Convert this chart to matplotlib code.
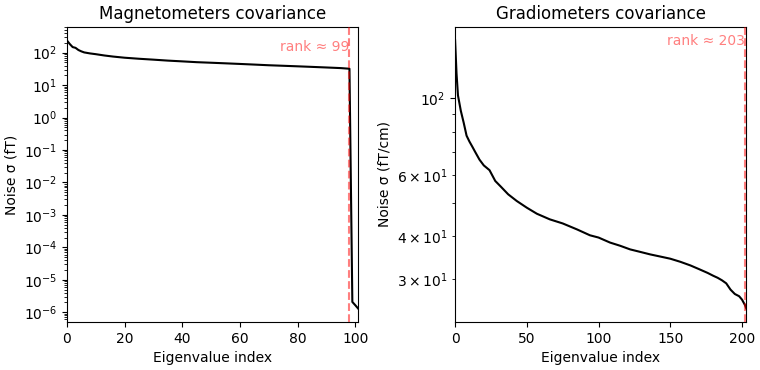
from matplotlib import pyplot as plt

# eigenvalue spectra (sqrt of eigenvalues, scaled)
mag_idx = [0, 1, 2, 3, 4, 5, 6, 8, 10, 13, 16, 20, 25, 30, 35, 40, 45, 50, 55, 60,
           65, 70, 75, 80, 85, 90, 95, 98, 99, 100, 101]
mag_vals = [239, 185, 149, 141, 121, 110, 102, 95, 90, 82, 76, 70, 65, 61, 57, 54, 51, 49, 47, 45,
            43, 41, 39.5, 38, 36.5, 35, 33.5, 32, 2.07e-6, 1.65e-6, 1.3e-6]
mag_count = 102
mag_rank = 99

grad_idx = [0, 1, 2, 4, 6, 8, 10, 12, 14, 17, 20, 24, 28, 32, 37, 43, 50, 57, 66, 75,
            85, 94, 100, 108, 115, 122, 129, 136, 143, 150, 157, 164, 170, 176, 180, 183,
            186, 189, 192, 195, 198, 200, 202, 203]
grad_vals = [147, 118, 102, 92, 85, 78, 75, 72.5, 70, 66.5, 64, 62, 57.7, 55.5, 52.8, 50.5, 48.3, 46.4, 44.7, 43.5,
             41.8, 40.2, 39.6, 38.3, 37.5, 36.6, 36.0, 35.4, 34.9, 34.4, 33.7, 32.9, 32.1, 31.3, 30.7, 30.3,
             29.8, 29.2, 28.0, 27.2, 26.8, 26.2, 25.3, 24.7]
grad_count = 204
grad_rank = 203

panels = [
    (mag_idx, mag_vals, mag_count, mag_rank, 'Magnetometers covariance', 'Noise σ (fT)'),
    (grad_idx, grad_vals, grad_count, grad_rank, 'Gradiometers covariance', 'Noise σ (fT/cm)'),
]

fig, axes = plt.subplots(1, 2, figsize=(7.6, 3.7), dpi=100)
fig.subplots_adjust(left=0.088, right=0.982, bottom=0.130, top=0.927, wspace=0.333)

for ax, (idx, vals, n, rank, title, ylabel) in zip(axes, panels):
    ax.plot(idx, vals, color='k', zorder=3)
    ax.axvline(rank - 1, ls='--', color='r', alpha=0.5, zorder=4, clip_on=False)
    ax.text(rank - 1, ax.get_ylim()[1], 'rank ≈ %d' % rank,
            ha='right', va='top', color='r', alpha=0.5, zorder=4)
    ax.set(ylabel=ylabel, yscale='log', xlabel='Eigenvalue index',
           title=title, xlim=[0, n - 1])

fig.savefig('out.png')
